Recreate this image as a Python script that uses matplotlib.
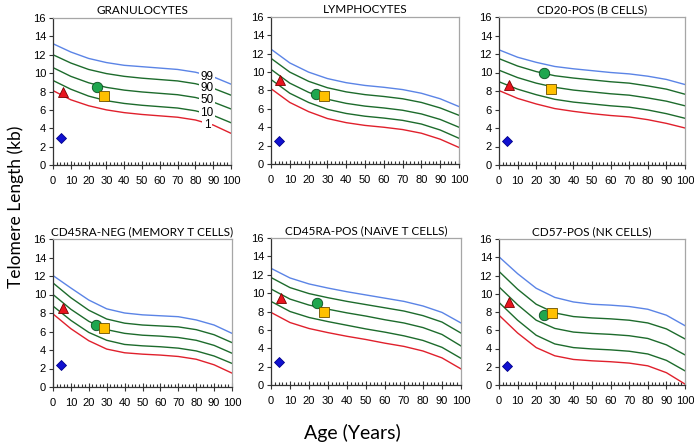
import numpy as np
import matplotlib
matplotlib.use('Agg')
import matplotlib.pyplot as plt
from matplotlib.ticker import MultipleLocator

# ages at which percentile curves were read
ages = [0, 10, 20, 30, 40, 50, 60, 70, 80, 90, 100]
percentiles = ['99', '90', '50', '10', '1']

titles = ['GRANULOCYTES', 'LYMPHOCYTES', 'CD20-POS (B CELLS)',
          'CD45RA-NEG (MEMORY T CELLS)', 'CD45RA-POS (NAïVE T CELLS)', 'CD57-POS (NK CELLS)']

# percentile curves, rows = 99, 90, 50, 10, 1
granulocytes = [[13.2, 12.3, 11.6, 11.15, 10.85, 10.7, 10.55, 10.4, 10.1, 9.6, 8.8],
                [12.0, 11.1, 10.4, 9.95, 9.65, 9.45, 9.3, 9.15, 8.85, 8.35, 7.6],
                [10.6, 9.65, 8.95, 8.45, 8.15, 7.95, 7.8, 7.65, 7.35, 6.85, 6.1],
                [9.2, 8.25, 7.5, 7.0, 6.7, 6.5, 6.35, 6.2, 5.9, 5.4, 4.6],
                [8.1, 7.1, 6.45, 6.0, 5.7, 5.5, 5.35, 5.2, 4.9, 4.35, 3.45]]
lymphocytes = [[12.5, 11.0, 10.0, 9.3, 8.85, 8.55, 8.35, 8.1, 7.7, 7.1, 6.25],
               [11.5, 10.0, 9.0, 8.3, 7.85, 7.55, 7.35, 7.1, 6.7, 6.1, 5.3],
               [10.3, 8.8, 7.8, 7.05, 6.6, 6.3, 6.1, 5.85, 5.45, 4.85, 4.0],
               [9.2, 7.7, 6.7, 5.95, 5.5, 5.2, 5.0, 4.75, 4.35, 3.7, 2.8],
               [8.2, 6.7, 5.7, 4.95, 4.5, 4.2, 4.0, 3.75, 3.35, 2.7, 1.8]]
b_cells = [[12.45, 11.65, 11.1, 10.65, 10.4, 10.2, 10.0, 9.85, 9.6, 9.25, 8.7],
           [11.5, 10.7, 10.1, 9.65, 9.4, 9.2, 9.0, 8.85, 8.55, 8.2, 7.65],
           [10.25, 9.45, 8.85, 8.4, 8.1, 7.9, 7.7, 7.55, 7.25, 6.9, 6.4],
           [9.0, 8.2, 7.6, 7.1, 6.8, 6.6, 6.4, 6.25, 5.95, 5.55, 5.05],
           [8.05, 7.2, 6.6, 6.1, 5.8, 5.55, 5.35, 5.2, 4.9, 4.5, 4.0]]
memory_t = [[12.05, 10.7, 9.4, 8.45, 8.0, 7.8, 7.7, 7.6, 7.25, 6.7, 5.8],
            [11.25, 9.65, 8.3, 7.35, 6.9, 6.7, 6.6, 6.5, 6.2, 5.65, 4.8],
            [10.0, 8.4, 7.1, 6.2, 5.8, 5.6, 5.5, 5.35, 5.05, 4.5, 3.65],
            [8.75, 7.2, 5.9, 5.05, 4.6, 4.45, 4.35, 4.2, 3.9, 3.35, 2.55],
            [7.9, 6.3, 5.0, 4.1, 3.7, 3.55, 3.45, 3.3, 3.0, 2.4, 1.5]]
naive_t = [[12.7, 11.65, 11.0, 10.55, 10.15, 9.8, 9.45, 9.1, 8.6, 7.9, 6.75],
           [11.7, 10.6, 9.95, 9.5, 9.1, 8.75, 8.4, 8.05, 7.55, 6.85, 5.65],
           [10.45, 9.35, 8.7, 8.25, 7.85, 7.5, 7.1, 6.75, 6.25, 5.5, 4.25],
           [9.1, 8.0, 7.35, 6.9, 6.5, 6.1, 5.75, 5.35, 4.85, 4.1, 2.9],
           [7.9, 6.8, 6.15, 5.7, 5.3, 4.95, 4.55, 4.2, 3.7, 2.95, 1.75]]
nk_cells = [[14.05, 12.2, 10.6, 9.6, 9.1, 8.85, 8.75, 8.6, 8.3, 7.65, 6.5],
            [12.45, 10.5, 8.85, 7.9, 7.5, 7.35, 7.25, 7.1, 6.8, 6.15, 5.05],
            [10.75, 8.8, 7.1, 6.2, 5.8, 5.65, 5.55, 5.4, 5.1, 4.4, 3.3],
            [9.05, 7.1, 5.45, 4.5, 4.1, 3.95, 3.85, 3.7, 3.4, 2.7, 1.55],
            [7.65, 5.7, 4.1, 3.2, 2.8, 2.65, 2.55, 2.4, 2.1, 1.35, 0.1]]
panels = [granulocytes, lymphocytes, b_cells, memory_t, naive_t, nk_cells]

# individual samples (age, telomere length) per panel
triangle_age = [5.5, 5.0, 5.2, 5.8, 5.1, 5.4]
triangle_tl = [8.0, 9.1, 8.65, 8.5, 9.45, 9.1]
circle_age = [24.7, 24.0, 24.2, 24.2, 24.0, 24.2]
circle_tl = [8.5, 7.6, 9.9, 6.65, 8.9, 7.65]
square_age = [28.6, 28.0, 28.0, 28.5, 28.0, 28.3]
square_tl = [7.5, 7.4, 8.25, 6.4, 7.95, 7.85]
diamond_age = [4.7, 4.1, 4.3, 4.5, 4.2, 4.2]
diamond_tl = [2.9, 2.45, 2.6, 2.35, 2.55, 2.1]

# percentile labels drawn in the first panel
label_age = 86.5
label_tl = [9.6, 8.35, 7.1, 5.7, 4.3]

line_colors = ['#5b84e6', '#1d6b2c', '#1d6b2c', '#1d6b2c', '#e0202c']

fig = plt.figure(figsize=(6.94, 4.45), dpi=100)

# axes boxes in pixels: left, right, top, bottom
boxes = [(53, 231, 18, 165), (271, 459, 17, 164), (499, 685, 17, 165),
         (53, 232, 239, 387), (271, 461, 238, 385), (499, 685, 239, 385)]

for i, curves in enumerate(panels):
    l, r, t, b = boxes[i]
    ax = fig.add_axes([l / 694, 1 - b / 445, (r - l) / 694, (b - t) / 445])

    for j, vals in enumerate(curves):
        ax.plot(ages, vals, color=line_colors[j], lw=1.0, zorder=2)

    ax.plot(diamond_age[i], diamond_tl[i], marker='D', ms=5, color='#1010d0',
            mec='#00008a', mew=0.6, zorder=4)
    ax.plot(triangle_age[i], triangle_tl[i], marker='^', ms=7.5, color='#e8141e',
            mec='#7a0000', mew=0.6, zorder=4)
    ax.plot(circle_age[i], circle_tl[i], marker='o', ms=7.5, color='#1fa64f',
            mec='#0b4d20', mew=0.6, zorder=4)
    ax.plot(square_age[i], square_tl[i], marker='s', ms=7.5, color='#ffc000',
            mec='#6b4f00', mew=0.6, zorder=5)

    if i == 0:
        for lab, y in zip(percentiles, label_tl):
            ax.text(label_age, y, lab, fontsize=8.5, family='Liberation Sans',
                    ha='center', va='center', zorder=3,
                    bbox=dict(facecolor='white', edgecolor='none', pad=1.2))

    ax.set_xlim(0, 100)
    ax.set_ylim(0, 16)
    ax.xaxis.set_major_locator(MultipleLocator(10))
    ax.xaxis.set_minor_locator(MultipleLocator(2))
    ax.yaxis.set_major_locator(MultipleLocator(2))
    ax.tick_params(axis='x', which='major', direction='inout', length=6,
                   width=0.8, color='#333333', labelsize=8, pad=5)
    ax.tick_params(axis='x', which='minor', direction='in', length=2.5,
                   width=0.8, color='#333333')
    ax.tick_params(axis='y', which='major', direction='out', length=3,
                   width=0.8, color='#333333', labelsize=8, pad=2)
    for lbl in ax.get_xticklabels() + ax.get_yticklabels():
        lbl.set_family('Liberation Sans')
    for side in ['left', 'bottom']:
        ax.spines[side].set_color('#333333')
        ax.spines[side].set_linewidth(0.9)
    for side in ['top', 'right']:
        ax.spines[side].set_color('#a6a6a6')
        ax.spines[side].set_linewidth(0.9)
    ax.set_title(titles[i], fontsize=8.5, family='Lato', pad=3)

fig.text(0.022, 0.535, 'Telomere Length (kb)', rotation=90, fontsize=12.5,
         family='Lato', ha='center', va='center')
fig.text(0.508, 0.028, 'Age (Years)', fontsize=14, family='Lato',
         ha='center', va='center')

fig.savefig('out.png', dpi=100)
